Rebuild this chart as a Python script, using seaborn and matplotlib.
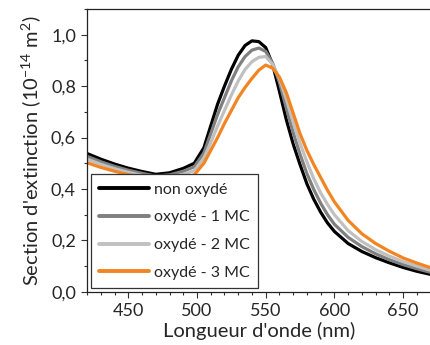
import numpy as np
import pandas as pd
import seaborn as sns
import matplotlib.pyplot as plt
from matplotlib.ticker import MultipleLocator, FuncFormatter

# Wavelength grid (nm) and extinction cross sections (1e-14 m^2)
wavelength = [420, 430, 440, 450, 460, 470, 480, 490, 498, 505, 510, 515, 520, 525,
              530, 535, 540, 545, 550, 555, 560, 565, 570, 575, 580, 585, 590, 595,
              600, 610, 620, 630, 640, 650, 660, 670]

non_oxyde = [.538, .516, .497, .481, .468, .457, .463, .48, .50, .56, .645, .73, .80, .865,
             .92, .958, .976, .973, .95, .885, .78, .67, .575, .495, .42, .36, .31, .268,
             .235, .188, .157, .133, .113, .095, .08, .068]
oxyde_1mc = [.527, .506, .488, .473, .461, .45, .455, .469, .486, .54, .615, .69, .755, .82,
             .875, .915, .94, .948, .935, .89, .815, .715, .62, .535, .46, .398, .345, .30,
             .263, .212, .176, .148, .125, .106, .09, .076]
oxyde_2mc = [.516, .496, .479, .465, .453, .443, .445, .457, .471, .52, .58, .645, .705, .765,
             .82, .865, .895, .912, .915, .885, .83, .75, .66, .578, .505, .44, .385, .34,
             .30, .238, .196, .164, .139, .118, .10, .084]
oxyde_3mc = [.502, .484, .469, .456, .445, .436, .434, .442, .455, .50, .55, .60, .655, .705,
             .755, .795, .83, .862, .882, .87, .835, .775, .695, .615, .55, .495, .445, .395,
             .35, .278, .226, .188, .158, .132, .112, .094]

labels = ["non oxydé", "oxydé - 1 MC", "oxydé - 2 MC", "oxydé - 3 MC"]
colors = ["#000000", "#808080", "#c0c0c0", "#f28522"]

df = pd.concat([
    pd.DataFrame({"wl": wavelength, "sigma": vals, "serie": lab})
    for vals, lab in zip([non_oxyde, oxyde_1mc, oxyde_2mc, oxyde_3mc], labels)
])

sns.set_style("ticks")
plt.rcParams['font.family'] = ['Lato', 'DejaVu Sans']
plt.rcParams['mathtext.fontset'] = 'custom'
plt.rcParams['mathtext.rm'] = 'Lato'

fig = plt.figure(figsize=(4.31, 3.45), dpi=100)
ax = fig.add_axes([0.202, 0.154, 0.797, 0.82])

sns.lineplot(data=df, x="wl", y="sigma", hue="serie", palette=colors,
             hue_order=labels, linewidth=2.3, ax=ax, sort=False)

ax.set_xlim(420, 670)
ax.set_ylim(0, 1.1)
ax.xaxis.set_major_locator(MultipleLocator(50))
ax.xaxis.set_minor_locator(MultipleLocator(10))
ax.yaxis.set_major_locator(MultipleLocator(0.2))
ax.yaxis.set_minor_locator(MultipleLocator(0.1))
ax.yaxis.set_major_formatter(FuncFormatter(lambda v, p: f"{v:.1f}".replace(".", ",")))
ax.tick_params(which="major", length=4, width=0.8, labelsize=13, color="#333333", pad=4)
ax.tick_params(which="minor", length=2.5, width=0.8, color="#333333")

for side in ["left", "bottom", "top"]:
    ax.spines[side].set_linewidth(0.9)
    ax.spines[side].set_color("#222222")
ax.spines["right"].set_visible(False)

ax.set_xlabel("Longueur d'onde (nm)", fontsize=14.5, labelpad=2)
ax.set_ylabel("Section d'extinction (10$^{-14}$ m$^2$)", fontsize=14.5, labelpad=5)

leg = ax.legend(loc="lower left", bbox_to_anchor=(0.012, 0.014), borderaxespad=0,
                fontsize=11.5, handlelength=3.1, labelspacing=0.85, handletextpad=0.35,
                borderpad=0.5, fancybox=False, framealpha=1, edgecolor="#333333")
leg.get_frame().set_linewidth(0.9)
for line in leg.get_lines():
    line.set_linewidth(2.8)

fig.savefig("out.png", dpi=100)
